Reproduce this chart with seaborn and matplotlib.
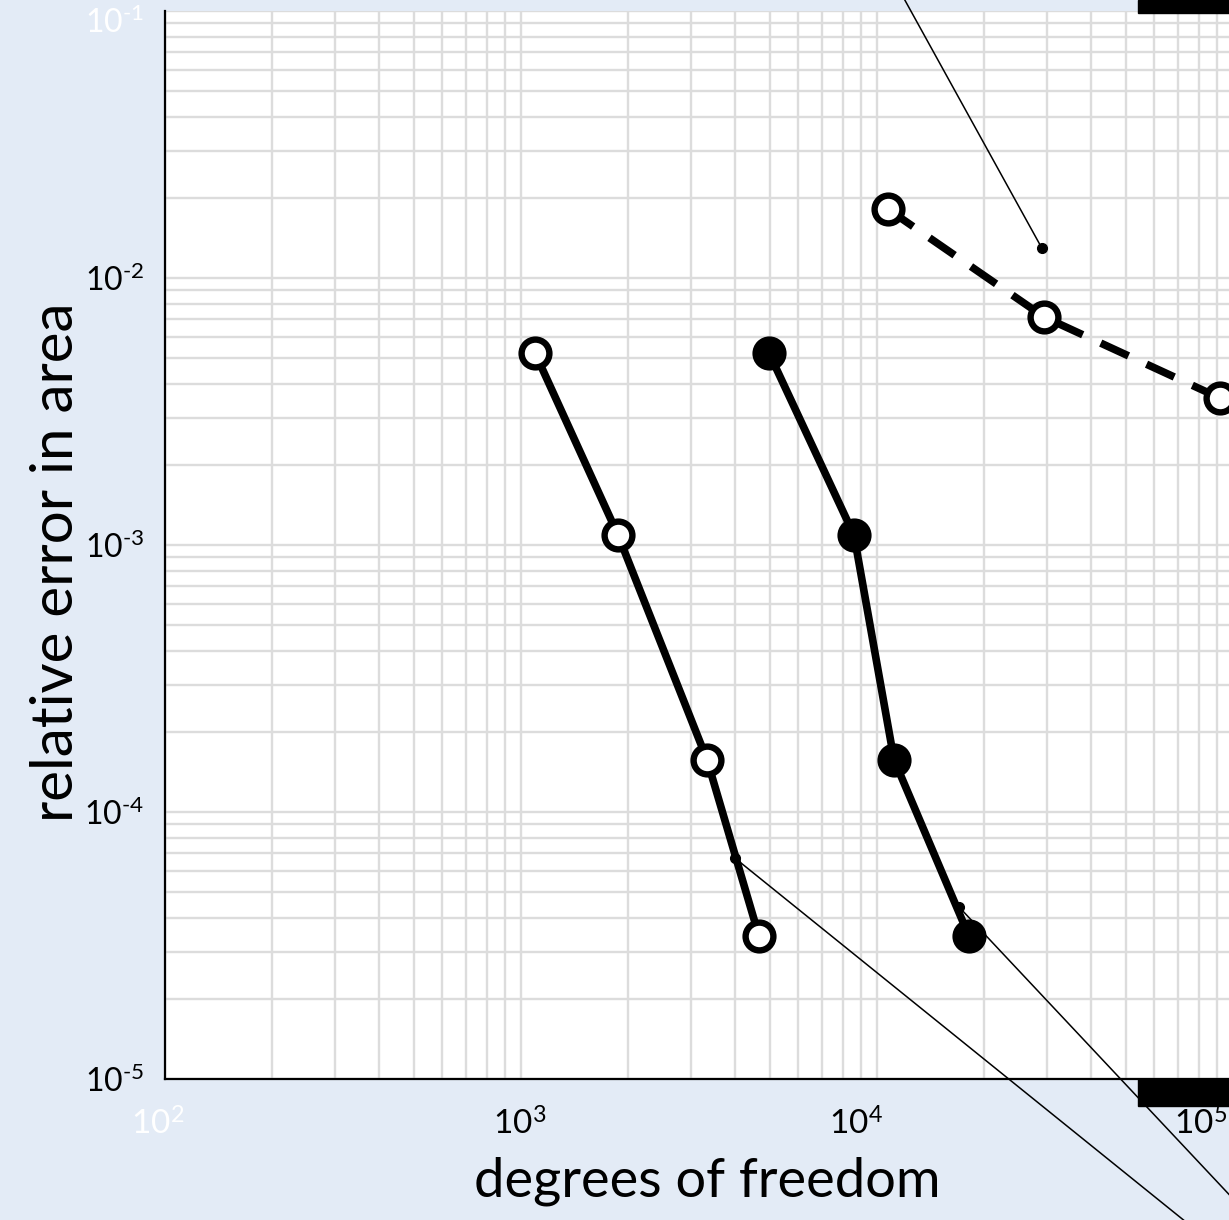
import matplotlib
matplotlib.use("Agg")
import matplotlib.pyplot as plt
import matplotlib.transforms as mtransforms
from matplotlib.ticker import LogLocator, NullFormatter
from matplotlib.patches import Rectangle
import pandas as pd
import seaborn as sns

# values (log-log)
dof_open = [1095, 1873, 3331, 4661]
err_open = [5.24e-3, 1.09e-3, 1.57e-4, 3.43e-5]

dof_filled = [4973, 8617, 11165, 18130]
err_filled = [5.24e-3, 1.09e-3, 1.57e-4, 3.43e-5]

dof_dashed = [10737, 29440, 91940]
err_dashed = [1.81e-2, 7.15e-3, 3.55e-3]

# callout leaders: start on a curve, run off the slide
leader_dof = [[29080, 7690], [3990, 154000], [16995, 154000]]
leader_err = [[1.29e-2, 0.32], [6.72e-5, 1.32e-6], [4.41e-5, 1.93e-6]]

x_ticks = [1e2, 1e3, 1e4, 1e5]
x_labels = [r"$\mathregular{10^2}$", r"$\mathregular{10^3}$", r"$\mathregular{10^4}$", r"$\mathregular{10^5}$"]
y_ticks = [1e-5, 1e-4, 1e-3, 1e-2, 1e-1]
y_labels = [r"$\mathregular{10^{\text{-}5}}$", r"$\mathregular{10^{\text{-}4}}$", r"$\mathregular{10^{\text{-}3}}$",
            r"$\mathregular{10^{\text{-}2}}$", r"$\mathregular{10^{\text{-}1}}$"]

bg = "#e3ebf6"
grid_col = "#dcdcdc"

sns.set_theme(style="white")
plt.rcParams["font.family"] = ["Lato", "DejaVu Sans"]
plt.rcParams["mathtext.fontset"] = "custom"
plt.rcParams["mathtext.rm"] = "Lato"
for k in ["text.color", "axes.labelcolor", "xtick.color", "ytick.color"]:
    plt.rcParams[k] = "black"

W, H = 1229, 1220
fig = plt.figure(figsize=(W / 100, H / 100), dpi=100, facecolor=bg)
# axes runs past the right edge of the slide crop
ax = fig.add_axes([165 / W, 141 / H, 1424 / W, 1068 / H])
ax.set_facecolor("white")
ax.set_xscale("log")
ax.set_yscale("log")
ax.set_xlim(1e2, 1e6)
ax.set_ylim(1e-5, 1e-1)

ax.xaxis.set_minor_locator(LogLocator(base=10, subs=range(2, 10)))
ax.yaxis.set_minor_locator(LogLocator(base=10, subs=range(2, 10)))
ax.xaxis.set_minor_formatter(NullFormatter())
ax.yaxis.set_minor_formatter(NullFormatter())
ax.grid(True, which="both", color=grid_col, linewidth=1.7, zorder=0)
ax.set_axisbelow(True)

for s in ["top", "right"]:
    ax.spines[s].set_visible(False)
for s in ["left", "bottom"]:
    ax.spines[s].set_color("black")
    ax.spines[s].set_linewidth(1.6)

ax.set_xticks(x_ticks)
ax.set_xticklabels(x_labels)
ax.set_yticks(y_ticks)
ax.set_yticklabels(y_labels)
ax.tick_params(which="both", length=0)
ax.tick_params(axis="x", labelsize=24, pad=21)
ax.tick_params(axis="y", labelsize=23, pad=15)

# keynote placed the x labels by hand, slightly left of their ticks
for lab, dx in zip(ax.get_xticklabels(), [-7, -1, -21, -32]):
    lab.set_transform(lab.get_transform() + mtransforms.ScaledTranslation(dx / 100, 0, fig.dpi_scale_trans))
top_lab = ax.get_yticklabels()[-1]
top_lab.set_transform(top_lab.get_transform() + mtransforms.ScaledTranslation(0, -9 / 100, fig.dpi_scale_trans))
ax.get_xticklabels()[0].set_color("white")
top_lab.set_color("white")

ax.set_xlabel("degrees of freedom", fontsize=39)
ax.xaxis.set_label_coords(707, H - 1156, transform=mtransforms.IdentityTransform())
ax.set_ylabel("relative error in area", fontsize=42)
ax.yaxis.set_label_coords(83, H - 562, transform=mtransforms.IdentityTransform())

# thin leader lines to callouts off the slide
for lx, ly in zip(leader_dof, leader_err):
    ax.plot(lx, ly, color="black", linewidth=1.1, clip_on=False, zorder=3)
    ax.plot(lx[0], ly[0], marker="o", markersize=7, color="black", zorder=6)

line_kw = dict(color="black", linewidth=5.5, markersize=20, markeredgewidth=4.6,
               markeredgecolor="black", estimator=None, sort=False, zorder=4)
sns.lineplot(x=dof_open, y=err_open, marker="o", markerfacecolor="white", ax=ax, **line_kw)
sns.lineplot(x=dof_filled, y=err_filled, marker="o", markerfacecolor="black", ax=ax, **line_kw)
sns.lineplot(x=dof_dashed, y=err_dashed, marker="o", markerfacecolor="white",
             linestyle=(0, (4, 2.6)), ax=ax, **line_kw)

# edges of the black callout boxes that got cropped
fig.patches.append(Rectangle((1138 / W, 1 - 13 / H), 1, 13 / H, transform=fig.transFigure,
                             color="black", zorder=10))
fig.patches.append(Rectangle((1138 / W, 1 - 1106 / H), 1, 27 / H, transform=fig.transFigure,
                             color="black", zorder=1))

fig.savefig("out.png", dpi=100, facecolor=bg)
